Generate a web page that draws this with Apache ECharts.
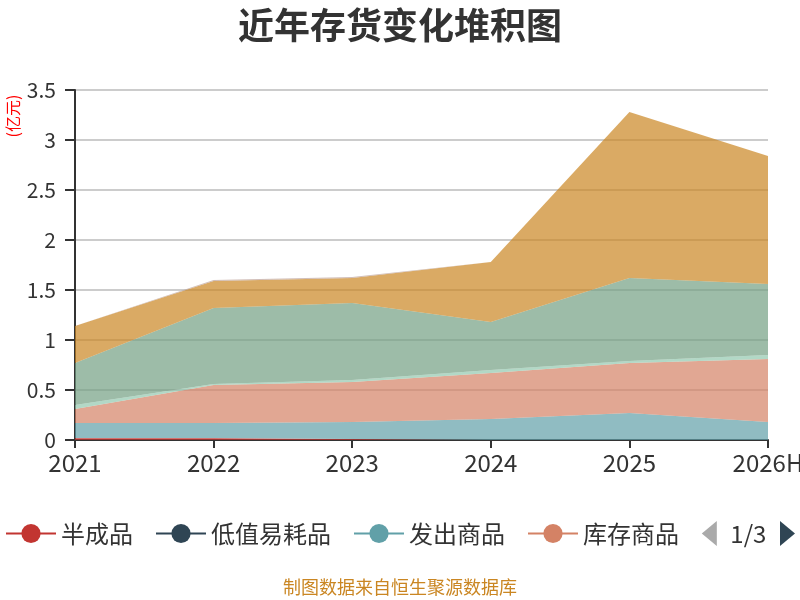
<!DOCTYPE html>
<html>
<head>
<meta charset="utf-8">
<script src="https://cdn.jsdelivr.net/npm/echarts@6/dist/echarts.min.js"></script>
<style>
  html, body { margin: 0; padding: 0; background: #fff; }
  #main { width: 800px; height: 600px; }
</style>
</head>
<body>
<div id="main"></div>
<script>
var years = ['2021', '2022', '2023', '2024', '2025', '2026H'];
var yTicks = [0, 0.5, 1, 1.5, 2, 2.5, 3, 3.5];

// 亿元
var banChengPin   = [0.02, 0.02, 0.01, 0, 0, 0];
var diZhiYiHao    = [0, 0, 0, 0, 0, 0];
var faChu         = [0.15, 0.15, 0.17, 0.21, 0.27, 0.18];
var kuCun         = [0.14, 0.38, 0.40, 0.46, 0.50, 0.63];
var weiTuo        = [0.04, 0.01, 0.02, 0.03, 0.02, 0.04];
var yuanCaiLiao   = [0.42, 0.76, 0.77, 0.48, 0.83, 0.71];
var zaiChanPin    = [0.37, 0.27, 0.25, 0.60, 1.66, 1.28];
var zhouZhuan     = [0, 0.01, 0.01, 0, 0, 0];

var names = ['半成品', '低值易耗品', '发出商品', '库存商品', '委托加工物资', '原材料', '在产品', '周转材料'];
var values = [banChengPin, diZhiYiHao, faChu, kuCun, weiTuo, yuanCaiLiao, zaiChanPin, zhouZhuan];
var colors = ['#c23531', '#2f4554', '#61a0a8', '#d48265', '#91c7ae', '#749f83', '#ca8622', '#bda29a'];

var font = 'Noto Sans CJK SC';
var chart = echarts.init(document.getElementById('main'));

var series = [];
for (var i = 0; i < names.length; i++) {
    series.push({
        name: names[i],
        type: 'line',
        stack: 'total',
        symbol: 'circle',
        showSymbol: false,
        lineStyle: { width: 0 },
        areaStyle: { opacity: 0.7 },
        emphasis: { disabled: true },
        data: values[i]
    });
}

var option = {
    color: colors,
    animation: false,
    textStyle: { fontFamily: font },
    title: [
        {
            text: '近年存货变化堆积图',
            left: 'center',
            top: 2,
            textStyle: { fontSize: 36, fontWeight: 'bold', color: '#333', fontFamily: font }
        },
        {
            text: '制图数据来自恒生聚源数据库',
            left: 'center',
            top: 578,
            padding: 0,
            textStyle: { fontSize: 18, fontWeight: 'normal', color: '#ca8622', fontFamily: font }
        }
    ],
    graphic: [{
        type: 'text',
        x: 13,
        y: 116,
        rotation: Math.PI / 2,
        style: {
            text: '(亿元)',
            fill: '#ff0000',
            fontSize: 16,
            fontFamily: font,
            align: 'center',
            verticalAlign: 'middle'
        }
    }],
    legend: {
        type: 'scroll',
        left: 0,
        right: 0,
        top: 516,
        itemWidth: 50,
        itemHeight: 24,
        itemGap: 22,
        lineStyle: { width: 2 },
        textStyle: { fontSize: 24, color: '#333', fontFamily: font },
        pageIconSize: [15, 27],
        pageButtonItemGap: 3,
        pageButtonGap: 18,
        pageIconColor: '#2f4554',
        pageIconInactiveColor: '#aaa',
        pageTextStyle: { fontSize: 24, color: '#333', fontFamily: font },
        data: names
    },
    grid: { left: 75, right: 32, top: 90, bottom: 160, outerBoundsMode: 'none' },
    xAxis: {
        type: 'category',
        boundaryGap: false,
        data: years,
        axisLine: { lineStyle: { color: '#333', width: 2 } },
        axisTick: { lineStyle: { color: '#333', width: 2 }, length: 8 },
        axisLabel: { fontSize: 24, color: '#333', margin: 11 }
    },
    yAxis: {
        type: 'value',
        min: yTicks[0],
        max: yTicks[yTicks.length - 1],
        interval: 0.5,
        axisLine: { show: true, lineStyle: { color: '#333', width: 2 } },
        axisTick: { show: true, lineStyle: { color: '#333', width: 2 }, length: 10 },
        axisLabel: { fontSize: 21, color: '#333', margin: 19 },
        splitLine: { lineStyle: { color: '#ccc', width: 2 } }
    },
    series: series
};

chart.setOption(option);
</script>
</body>
</html>
